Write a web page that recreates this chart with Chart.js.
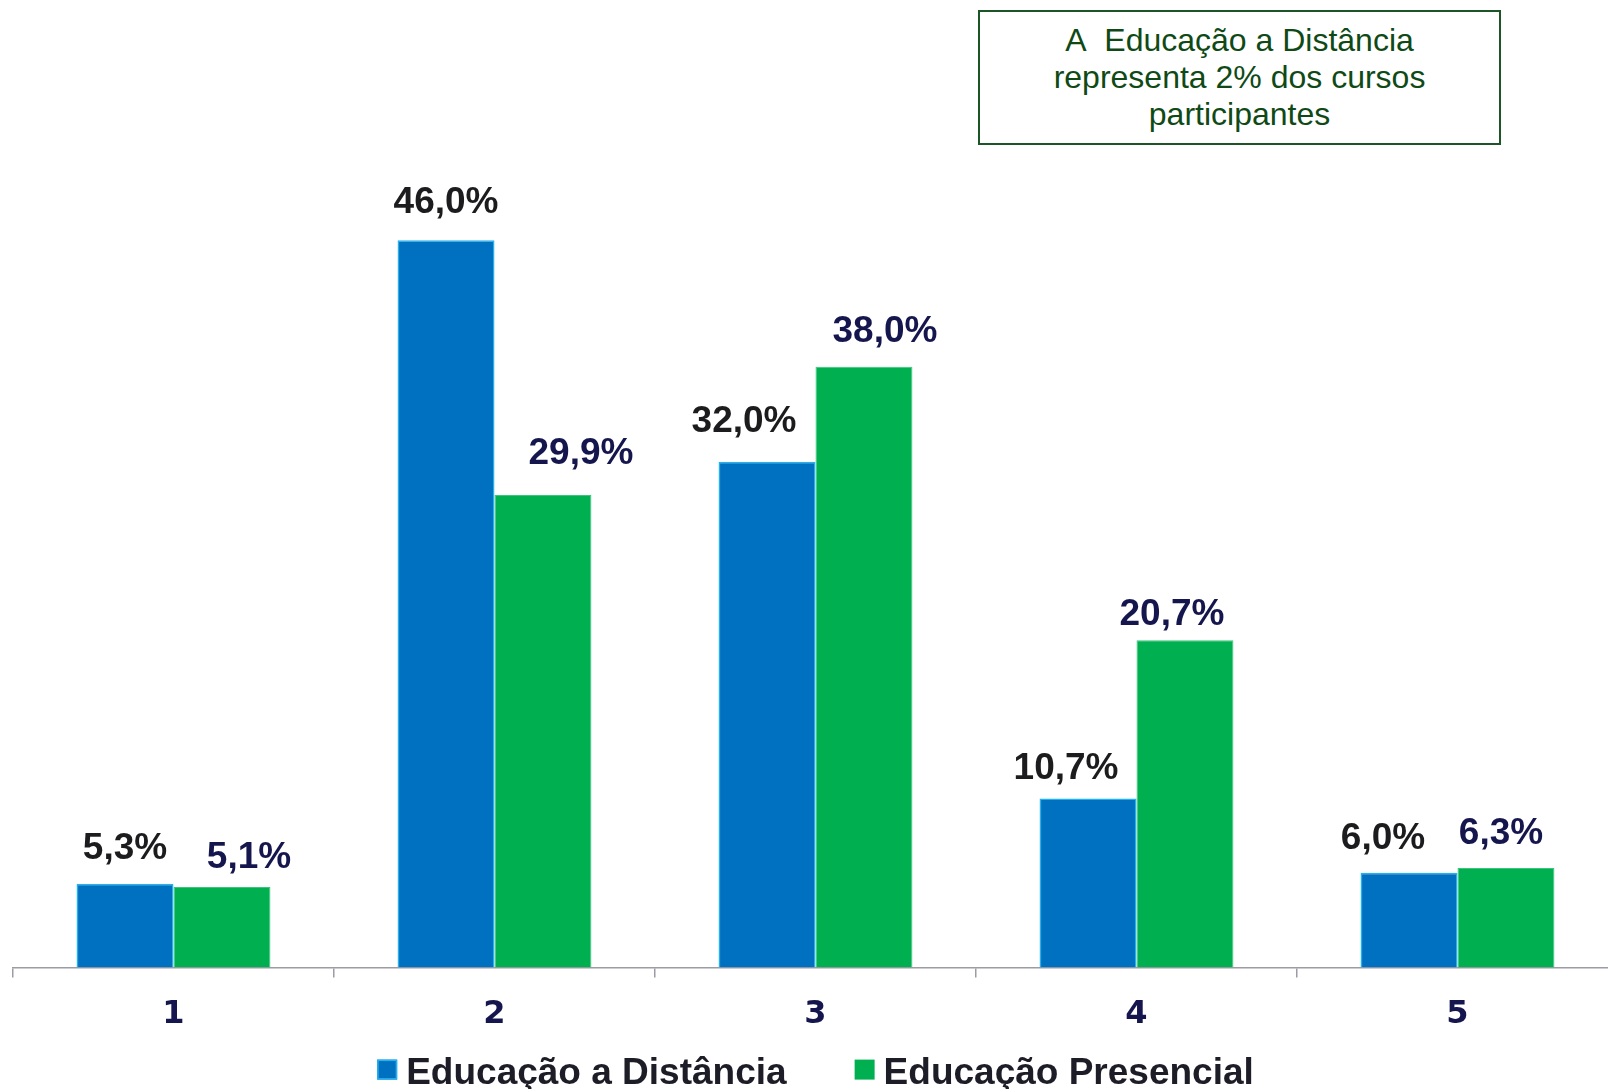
<!DOCTYPE html>
<html>
<head>
<meta charset="utf-8">
<script src="https://cdn.jsdelivr.net/npm/chart.js@4.4.0/dist/chart.umd.min.js"></script>
<style>
  html, body { margin: 0; padding: 0; background: #fff; overflow: hidden; }
  #grafico { position: absolute; left: 0; top: 0; }
  #nota {
    position: absolute; left: 978px; top: 10px; width: 519px; height: 121px;
    border: 2px solid #1c5627; background: #fff;
    font-family: "Liberation Sans", Arial, sans-serif; font-size: 32px; line-height: 37px;
    color: #0f4a16; text-align: center; padding-top: 10px; box-sizing: content-box;
  }
</style>
</head>
<body>
<canvas id="grafico" width="1630" height="1110"></canvas>
<div id="nota">A&nbsp; Educação a Distância<br>representa 2% dos cursos<br>participantes</div>
<script>
// datos
const categorias = ['1', '2', '3', '4', '5'];
const valoresDistancia = [5.3, 46.0, 32.0, 10.7, 6.0];
const valoresPresencial = [5.1, 29.9, 38.0, 20.7, 6.3];

// desplazamiento de cada etiqueta respecto al tope de la barra [dx, dy]
const desvioDistancia = [[0, -38], [0, -40], [-23, -43], [-22, -32], [-26, -37]];
const desvioPresencial = [[27, -32], [38, -44], [21, -38], [-13, -28], [-5, -37]];

const fuenteArial = '"Liberation Sans", Arial, sans-serif';
const colorEje = '#9c9ca4';

const etiquetas = {
  id: 'etiquetas',
  afterDatasetsDraw(chart) {
    const ctx = chart.ctx;
    const desvios = [desvioDistancia, desvioPresencial];
    const colores = ['#1c1c1e', '#16164e'];
    ctx.save();
    ctx.font = 'bold 37px ' + fuenteArial;
    ctx.textAlign = 'center';
    ctx.textBaseline = 'alphabetic';
    chart.data.datasets.forEach((ds, i) => {
      ctx.fillStyle = colores[i];
      chart.getDatasetMeta(i).data.forEach((barra, j) => {
        const txt = ds.data[j].toFixed(1).replace('.', ',') + '%';
        const [dx, dy] = desvios[i][j];
        ctx.fillText(txt, barra.x + dx, barra.y + dy + 13);
      });
    });
    ctx.restore();
  }
};

const leyenda = {
  id: 'leyenda',
  afterDraw(chart) {
    const ctx = chart.ctx;
    const area = chart.chartArea;
    ctx.save();
    ctx.font = 'bold 37px ' + fuenteArial;
    const caja = 20, hueco = 9, separa = 68;
    const items = chart.data.datasets.map(ds => ({
      texto: ds.label, color: ds.backgroundColor, borde: ds.borderColor,
      ancho: ctx.measureText(ds.label).width
    }));
    let total = 0;
    items.forEach((it, k) => { total += caja + hueco + it.ancho + (k ? separa : 0); });
    let x = (area.left + area.right) / 2 - total / 2;
    const yCaja = area.bottom + 92;
    const yTexto = area.bottom + 116;
    items.forEach((it, k) => {
      ctx.fillStyle = it.color;
      ctx.fillRect(x, yCaja, caja, caja);
      if (k === 0) {
        ctx.strokeStyle = it.borde;
        ctx.lineWidth = 1.5;
        ctx.strokeRect(x + 0.75, yCaja + 0.75, caja - 1.5, caja - 1.5);
      }
      ctx.fillStyle = '#1d1d27';
      ctx.textBaseline = 'alphabetic';
      ctx.fillText(it.texto, x + caja + hueco, yTexto);
      x += caja + hueco + it.ancho + separa;
    });
    ctx.restore();
  }
};

new Chart(document.getElementById('grafico'), {
  type: 'bar',
  data: {
    labels: categorias,
    datasets: [
      {
        label: 'Educação a Distância',
        data: valoresDistancia,
        backgroundColor: '#0070c0',
        borderColor: '#22b2f0',
        borderWidth: 1.5
      },
      {
        label: 'Educação Presencial',
        data: valoresPresencial,
        backgroundColor: '#00b050',
        borderColor: '#3cc47c',
        borderWidth: 1
      }
    ]
  },
  options: {
    responsive: false,
    animation: false,
    devicePixelRatio: 1,
    layout: { padding: { left: 13, right: 12, top: 19, bottom: 58 } },
    plugins: {
      legend: { display: false },
      tooltip: { enabled: false }
    },
    datasets: {
      bar: { categoryPercentage: 0.604, barPercentage: 1 }
    },
    scales: {
      x: {
        grid: {
          display: true,
          drawOnChartArea: false,
          drawTicks: true,
          tickLength: 10,
          color: colorEje,
          lineWidth: 1.5,
          offset: true
        },
        border: { display: true, color: colorEje, width: 1.5 },
        ticks: {
          color: '#16164e',
          padding: 18,
          font: { family: '"DejaVu Sans", Verdana, sans-serif', size: 32, weight: 'bold' }
        }
      },
      y: {
        display: false,
        min: 0,
        max: 60
      }
    }
  },
  plugins: [etiquetas, leyenda]
});
</script>
</body>
</html>
